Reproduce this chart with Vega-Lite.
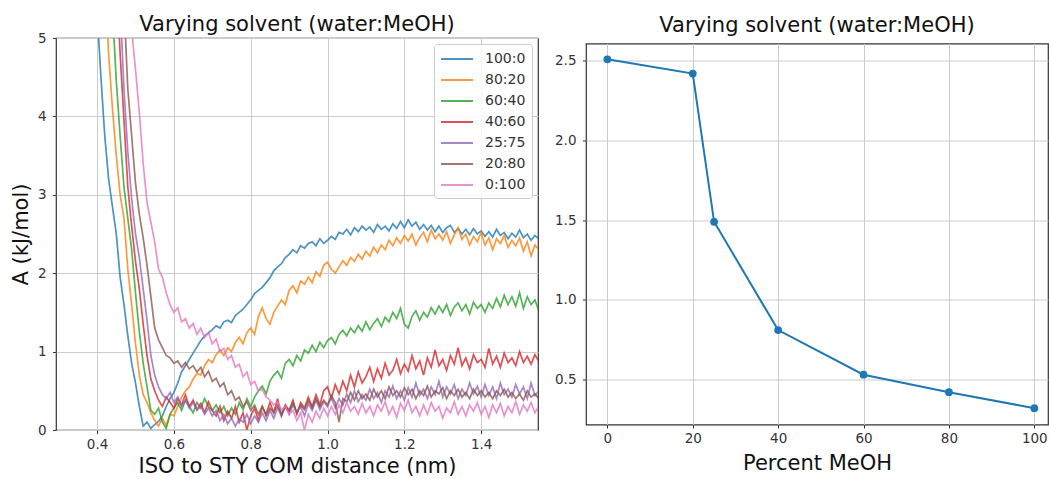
{
"$schema": "https://vega.github.io/schema/vega-lite/v6.json",
"padding": {"left": 9, "top": 13, "right": 0, "bottom": 0},
"config": {
  "font": "DejaVu Sans",
  "view": {"stroke": "#333333", "strokeWidth": 1.2},
  "axis": {"grid": true, "gridColor": "#cccccc", "gridWidth": 1, "domain": false, "tickColor": "#333333", "tickSize": 3.5, "labelColor": "#333333", "labelFontSize": 13.5, "titleFontSize": 21, "titleFontWeight": "normal", "titleColor": "#111111", "labelFont": "DejaVu Sans", "titleFont": "DejaVu Sans"},
  "title": {"fontSize": 21, "fontWeight": "normal", "color": "#111111", "font": "DejaVu Sans"}
},
"spacing": 48,
"bounds": "flush",
"center": true,
"resolve": {"legend": {"color": "independent"}, "scale": {"color": "independent"}},
"datasets": {
"curves": [
{"x":0.404,"100:0":5.0},
{"x":0.41,"100:0":4.5},
{"x":0.42,"100:0":3.75},
{"x":0.428,"80:20":5.0},
{"x":0.43,"100:0":3.2,"80:20":4.8},
{"x":0.44,"100:0":2.85,"80:20":4.1},
{"x":0.444,"60:40":5.0},
{"x":0.45,"100:0":2.5,"80:20":3.5,"60:40":4.45},
{"x":0.458,"40:60":5.0},
{"x":0.46,"100:0":1.95,"80:20":3.0,"60:40":3.75,"40:60":4.8},
{"x":0.464,"25:75":5.0},
{"x":0.47,"100:0":1.6,"80:20":2.7,"60:40":3.1,"40:60":3.95,"25:75":4.35},
{"x":0.474,"20:80":5.0},
{"x":0.48,"100:0":1.2,"80:20":2.05,"60:40":2.7,"40:60":3.1,"25:75":3.55,"20:80":4.35},
{"x":0.49,"100:0":0.85,"80:20":1.6,"60:40":2.3,"40:60":2.6,"25:75":2.95,"20:80":3.75},
{"x":0.492,"0:100":5.0},
{"x":0.50,"100:0":0.6,"80:20":1.1,"60:40":1.75,"40:60":2.15,"25:75":2.5,"20:80":3.15,"0:100":4.6},
{"x":0.51,"100:0":0.3,"80:20":0.7,"60:40":1.25,"40:60":1.8,"25:75":2.2,"20:80":2.75,"0:100":4.05},
{"x":0.52,"100:0":0.05,"80:20":0.45,"60:40":0.85,"40:60":1.35,"25:75":1.8,"20:80":2.45,"0:100":3.4},
{"x":0.53,"100:0":0.1,"80:20":0.35,"60:40":0.55,"40:60":0.95,"25:75":1.4,"20:80":2.1,"0:100":2.9},
{"x":0.54,"100:0":0.02,"80:20":0.22,"60:40":0.25,"40:60":0.65,"25:75":0.95,"20:80":1.7,"0:100":2.65},
{"x":0.55,"100:0":0.07,"80:20":0.12,"60:40":0.2,"40:60":0.5,"25:75":0.7,"20:80":1.3,"0:100":2.4},
{"x":0.56,"100:0":0.11,"80:20":0.05,"60:40":0.28,"40:60":0.38,"25:75":0.55,"20:80":1.15,"0:100":2.05},
{"x":0.57,"100:0":0.18,"80:20":0.15,"60:40":0.1,"40:60":0.3,"25:75":0.45,"20:80":1.05,"0:100":1.95},
{"x":0.58,"100:0":0.3,"80:20":0.06,"60:40":0.02,"40:60":0.42,"25:75":0.4,"20:80":0.95,"0:100":1.75},
{"x":0.59,"100:0":0.4,"80:20":0.2,"60:40":0.2,"40:60":0.35,"25:75":0.48,"20:80":0.92,"0:100":1.6},
{"x":0.60,"100:0":0.48,"80:20":0.18,"60:40":0.28,"40:60":0.28,"25:75":0.35,"20:80":0.85,"0:100":1.5},
{"x":0.61,"100:0":0.6,"80:20":0.3,"60:40":0.35,"40:60":0.4,"25:75":0.42,"20:80":0.88,"0:100":1.56},
{"x":0.62,"100:0":0.74,"80:20":0.42,"60:40":0.25,"40:60":0.32,"25:75":0.3,"20:80":0.8,"0:100":1.38},
{"x":0.63,"100:0":0.82,"80:20":0.5,"60:40":0.38,"40:60":0.45,"25:75":0.38,"20:80":0.86,"0:100":1.42},
{"x":0.64,"100:0":0.9,"80:20":0.55,"60:40":0.3,"40:60":0.3,"25:75":0.28,"20:80":0.78,"0:100":1.3},
{"x":0.65,"100:0":0.98,"80:20":0.65,"60:40":0.22,"40:60":0.38,"25:75":0.35,"20:80":0.82,"0:100":1.36},
{"x":0.66,"100:0":1.06,"80:20":0.72,"60:40":0.35,"40:60":0.26,"25:75":0.25,"20:80":0.74,"0:100":1.22},
{"x":0.67,"100:0":1.14,"80:20":0.7,"60:40":0.28,"40:60":0.34,"25:75":0.3,"20:80":0.8,"0:100":1.3},
{"x":0.68,"100:0":1.2,"80:20":0.82,"60:40":0.4,"40:60":0.22,"25:75":0.2,"20:80":0.68,"0:100":1.18},
{"x":0.69,"100:0":1.24,"80:20":0.9,"60:40":0.3,"40:60":0.36,"25:75":0.28,"20:80":0.75,"0:100":1.24},
{"x":0.70,"100:0":1.28,"80:20":0.86,"60:40":0.25,"40:60":0.25,"25:75":0.18,"20:80":0.62,"0:100":1.1},
{"x":0.71,"100:0":1.33,"80:20":0.96,"60:40":0.32,"40:60":0.18,"25:75":0.25,"20:80":0.66,"0:100":1.16},
{"x":0.72,"100:0":1.3,"80:20":1.02,"60:40":0.22,"40:60":0.3,"25:75":0.12,"20:80":0.55,"0:100":1.0},
{"x":0.73,"100:0":1.38,"80:20":0.95,"60:40":0.3,"40:60":0.12,"25:75":0.2,"20:80":0.6,"0:100":1.04},
{"x":0.74,"100:0":1.4,"80:20":1.05,"60:40":0.18,"40:60":0.24,"25:75":0.08,"20:80":0.45,"0:100":0.9},
{"x":0.75,"100:0":1.37,"80:20":1.0,"60:40":0.28,"40:60":0.15,"25:75":0.15,"20:80":0.5,"0:100":0.95},
{"x":0.76,"100:0":1.46,"80:20":1.12,"60:40":0.2,"40:60":0.3,"25:75":0.05,"20:80":0.38,"0:100":0.8},
{"x":0.77,"100:0":1.5,"80:20":1.18,"60:40":0.35,"40:60":0.1,"25:75":0.14,"20:80":0.42,"0:100":0.84},
{"x":0.78,"100:0":1.54,"80:20":1.1,"60:40":0.26,"40:60":0.22,"25:75":0.1,"20:80":0.3,"0:100":0.68},
{"x":0.79,"100:0":1.6,"80:20":1.24,"60:40":0.4,"40:60":0.0,"25:75":0.2,"20:80":0.36,"0:100":0.74},
{"x":0.80,"100:0":1.66,"80:20":1.3,"60:40":0.3,"40:60":0.18,"25:75":0.08,"20:80":0.25,"0:100":0.58},
{"x":0.81,"100:0":1.74,"80:20":1.22,"60:40":0.42,"40:60":0.28,"25:75":0.18,"20:80":0.32,"0:100":0.62},
{"x":0.82,"100:0":1.78,"80:20":1.45,"60:40":0.5,"40:60":0.12,"25:75":0.1,"20:80":0.2,"0:100":0.5},
{"x":0.83,"100:0":1.82,"80:20":1.56,"60:40":0.56,"40:60":0.3,"25:75":0.22,"20:80":0.3,"0:100":0.52},
{"x":0.84,"100:0":1.88,"80:20":1.42,"60:40":0.46,"40:60":0.2,"25:75":0.12,"20:80":0.18,"0:100":0.42},
{"x":0.85,"100:0":1.94,"80:20":1.35,"60:40":0.62,"40:60":0.35,"25:75":0.25,"20:80":0.28,"0:100":0.38},
{"x":0.86,"100:0":2.03,"80:20":1.5,"60:40":0.7,"40:60":0.22,"25:75":0.15,"20:80":0.22,"0:100":0.32},
{"x":0.87,"100:0":2.08,"80:20":1.58,"60:40":0.75,"40:60":0.4,"25:75":0.28,"20:80":0.32,"0:100":0.36},
{"x":0.88,"100:0":2.12,"80:20":1.66,"60:40":0.66,"40:60":0.18,"25:75":0.18,"20:80":0.2,"0:100":0.26},
{"x":0.89,"100:0":2.2,"80:20":1.6,"60:40":0.85,"40:60":0.32,"25:75":0.3,"20:80":0.3,"0:100":0.3},
{"x":0.90,"100:0":2.24,"80:20":1.78,"60:40":0.9,"40:60":0.25,"25:75":0.2,"20:80":0.24,"0:100":0.2},
{"x":0.91,"100:0":2.3,"80:20":1.84,"60:40":0.82,"40:60":0.38,"25:75":0.32,"20:80":0.35,"0:100":0.25},
{"x":0.92,"100:0":2.26,"80:20":1.75,"60:40":0.95,"40:60":0.2,"25:75":0.22,"20:80":0.22,"0:100":0.12},
{"x":0.93,"100:0":2.35,"80:20":1.9,"60:40":0.88,"40:60":0.35,"25:75":0.3,"20:80":0.32,"0:100":0.22},
{"x":0.94,"100:0":2.32,"80:20":1.86,"60:40":1.02,"40:60":0.28,"25:75":0.18,"20:80":0.26,"0:100":0.0},
{"x":0.95,"100:0":2.38,"80:20":1.95,"60:40":0.98,"40:60":0.42,"25:75":0.34,"20:80":0.38,"0:100":0.2},
{"x":0.96,"100:0":2.4,"80:20":1.88,"60:40":1.08,"40:60":0.3,"25:75":0.25,"20:80":0.28,"0:100":0.1},
{"x":0.97,"100:0":2.35,"80:20":2.02,"60:40":1.0,"40:60":0.45,"25:75":0.38,"20:80":0.4,"0:100":0.24},
{"x":0.98,"100:0":2.44,"80:20":1.96,"60:40":1.12,"40:60":0.32,"25:75":0.26,"20:80":0.3,"0:100":0.15},
{"x":0.99,"100:0":2.38,"80:20":2.1,"60:40":1.05,"40:60":0.5,"25:75":0.36,"20:80":0.38,"0:100":0.28},
{"x":1.00,"100:0":2.42,"80:20":2.14,"60:40":1.14,"40:60":0.55,"25:75":0.3,"20:80":0.32,"0:100":0.18},
{"x":1.01,"100:0":2.47,"80:20":2.05,"60:40":1.18,"40:60":0.4,"25:75":0.42,"20:80":0.44,"0:100":0.3},
{"x":1.02,"100:0":2.43,"80:20":2.0,"60:40":1.1,"40:60":0.58,"25:75":0.28,"20:80":0.35,"0:100":0.2},
{"x":1.03,"100:0":2.52,"80:20":2.08,"60:40":1.22,"40:60":0.46,"25:75":0.4,"20:80":0.1,"0:100":0.32},
{"x":1.04,"100:0":2.5,"80:20":2.16,"60:40":1.27,"40:60":0.62,"25:75":0.32,"20:80":0.4,"0:100":0.22},
{"x":1.05,"100:0":2.56,"80:20":2.1,"60:40":1.2,"40:60":0.5,"25:75":0.46,"20:80":0.36,"0:100":0.35},
{"x":1.06,"100:0":2.49,"80:20":2.2,"60:40":1.3,"40:60":0.7,"25:75":0.35,"20:80":0.48,"0:100":0.24},
{"x":1.07,"100:0":2.58,"80:20":2.15,"60:40":1.24,"40:60":0.55,"25:75":0.5,"20:80":0.38,"0:100":0.3},
{"x":1.08,"100:0":2.53,"80:20":2.24,"60:40":1.33,"40:60":0.74,"25:75":0.36,"20:80":0.5,"0:100":0.2},
{"x":1.09,"100:0":2.6,"80:20":2.18,"60:40":1.26,"40:60":0.6,"25:75":0.45,"20:80":0.4,"0:100":0.34},
{"x":1.10,"100:0":2.55,"80:20":2.28,"60:40":1.38,"40:60":0.68,"25:75":0.38,"20:80":0.46,"0:100":0.22},
{"x":1.11,"100:0":2.59,"80:20":2.22,"60:40":1.28,"40:60":0.8,"25:75":0.52,"20:80":0.38,"0:100":0.3},
{"x":1.12,"100:0":2.52,"80:20":2.33,"60:40":1.36,"40:60":0.62,"25:75":0.4,"20:80":0.52,"0:100":0.18},
{"x":1.13,"100:0":2.62,"80:20":2.26,"60:40":1.42,"40:60":0.78,"25:75":0.48,"20:80":0.42,"0:100":0.32},
{"x":1.14,"100:0":2.56,"80:20":2.36,"60:40":1.32,"40:60":0.66,"25:75":0.35,"20:80":0.5,"0:100":0.24},
{"x":1.15,"100:0":2.6,"80:20":2.3,"60:40":1.44,"40:60":0.85,"25:75":0.5,"20:80":0.4,"0:100":0.36},
{"x":1.16,"100:0":2.54,"80:20":2.42,"60:40":1.38,"40:60":0.7,"25:75":0.42,"20:80":0.55,"0:100":0.2},
{"x":1.17,"100:0":2.63,"80:20":2.35,"60:40":1.5,"40:60":0.76,"25:75":0.56,"20:80":0.44,"0:100":0.3},
{"x":1.18,"100:0":2.57,"80:20":2.45,"60:40":1.42,"40:60":0.9,"25:75":0.4,"20:80":0.5,"0:100":0.16},
{"x":1.19,"100:0":2.66,"80:20":2.38,"60:40":1.55,"40:60":0.72,"25:75":0.5,"20:80":0.42,"0:100":0.34},
{"x":1.20,"100:0":2.58,"80:20":2.48,"60:40":1.35,"40:60":0.84,"25:75":0.38,"20:80":0.54,"0:100":0.25},
{"x":1.21,"100:0":2.68,"80:20":2.41,"60:40":1.3,"40:60":0.75,"25:75":0.54,"20:80":0.45,"0:100":0.38},
{"x":1.22,"100:0":2.6,"80:20":2.5,"60:40":1.45,"40:60":0.95,"25:75":0.42,"20:80":0.52,"0:100":0.22},
{"x":1.23,"100:0":2.65,"80:20":2.36,"60:40":1.52,"40:60":0.78,"25:75":0.6,"20:80":0.4,"0:100":0.3},
{"x":1.24,"100:0":2.56,"80:20":2.46,"60:40":1.4,"40:60":0.88,"25:75":0.44,"20:80":0.5,"0:100":0.18},
{"x":1.25,"100:0":2.62,"80:20":2.52,"60:40":1.5,"40:60":0.7,"25:75":0.52,"20:80":0.44,"0:100":0.32},
{"x":1.26,"100:0":2.55,"80:20":2.4,"60:40":1.44,"40:60":0.92,"25:75":0.4,"20:80":0.56,"0:100":0.2},
{"x":1.27,"100:0":2.61,"80:20":2.55,"60:40":1.56,"40:60":0.8,"25:75":0.55,"20:80":0.42,"0:100":0.35},
{"x":1.28,"100:0":2.53,"80:20":2.44,"60:40":1.48,"40:60":1.02,"25:75":0.45,"20:80":0.5,"0:100":0.24},
{"x":1.29,"100:0":2.6,"80:20":2.5,"60:40":1.58,"40:60":0.82,"25:75":0.62,"20:80":0.46,"0:100":0.3},
{"x":1.30,"100:0":2.52,"80:20":2.42,"60:40":1.5,"40:60":0.9,"25:75":0.42,"20:80":0.54,"0:100":0.15},
{"x":1.31,"100:0":2.58,"80:20":2.53,"60:40":1.6,"40:60":0.76,"25:75":0.55,"20:80":0.4,"0:100":0.28},
{"x":1.32,"100:0":2.61,"80:20":2.38,"60:40":1.46,"40:60":0.95,"25:75":0.46,"20:80":0.5,"0:100":0.22},
{"x":1.33,"100:0":2.52,"80:20":2.49,"60:40":1.57,"40:60":0.84,"25:75":0.58,"20:80":0.44,"0:100":0.36},
{"x":1.34,"100:0":2.57,"80:20":2.58,"60:40":1.62,"40:60":1.05,"25:75":0.4,"20:80":0.52,"0:100":0.2},
{"x":1.35,"100:0":2.5,"80:20":2.43,"60:40":1.52,"40:60":0.82,"25:75":0.52,"20:80":0.42,"0:100":0.3},
{"x":1.36,"100:0":2.56,"80:20":2.5,"60:40":1.6,"40:60":0.92,"25:75":0.44,"20:80":0.48,"0:100":0.18},
{"x":1.37,"100:0":2.49,"80:20":2.36,"60:40":1.48,"40:60":0.78,"25:75":0.6,"20:80":0.4,"0:100":0.32},
{"x":1.38,"100:0":2.57,"80:20":2.47,"60:40":1.63,"40:60":0.96,"25:75":0.46,"20:80":0.52,"0:100":0.24},
{"x":1.39,"100:0":2.5,"80:20":2.4,"60:40":1.55,"40:60":0.86,"25:75":0.56,"20:80":0.44,"0:100":0.35},
{"x":1.40,"100:0":2.54,"80:20":2.52,"60:40":1.6,"40:60":0.9,"25:75":0.42,"20:80":0.5,"0:100":0.2},
{"x":1.41,"100:0":2.47,"80:20":2.36,"60:40":1.5,"40:60":0.8,"25:75":0.58,"20:80":0.42,"0:100":0.3},
{"x":1.42,"100:0":2.53,"80:20":2.45,"60:40":1.62,"40:60":1.04,"25:75":0.44,"20:80":0.48,"0:100":0.16},
{"x":1.43,"100:0":2.46,"80:20":2.3,"60:40":1.55,"40:60":0.84,"25:75":0.55,"20:80":0.4,"0:100":0.32},
{"x":1.44,"100:0":2.56,"80:20":2.44,"60:40":1.68,"40:60":0.94,"25:75":0.4,"20:80":0.5,"0:100":0.22},
{"x":1.45,"100:0":2.48,"80:20":2.38,"60:40":1.57,"40:60":0.8,"25:75":0.6,"20:80":0.44,"0:100":0.34},
{"x":1.46,"100:0":2.52,"80:20":2.48,"60:40":1.72,"40:60":0.98,"25:75":0.45,"20:80":0.52,"0:100":0.18},
{"x":1.47,"100:0":2.44,"80:20":2.33,"60:40":1.6,"40:60":0.86,"25:75":0.52,"20:80":0.42,"0:100":0.3},
{"x":1.48,"100:0":2.51,"80:20":2.42,"60:40":1.7,"40:60":0.92,"25:75":0.42,"20:80":0.48,"0:100":0.22},
{"x":1.49,"100:0":2.46,"80:20":2.35,"60:40":1.58,"40:60":0.82,"25:75":0.58,"20:80":0.4,"0:100":0.36},
{"x":1.50,"100:0":2.55,"80:20":2.45,"60:40":1.75,"40:60":1.0,"25:75":0.46,"20:80":0.46,"0:100":0.2},
{"x":1.51,"100:0":2.45,"80:20":2.28,"60:40":1.55,"40:60":0.86,"25:75":0.55,"20:80":0.38,"0:100":0.32},
{"x":1.52,"100:0":2.5,"80:20":2.4,"60:40":1.7,"40:60":0.94,"25:75":0.4,"20:80":0.5,"0:100":0.24},
{"x":1.53,"100:0":2.42,"80:20":2.22,"60:40":1.6,"40:60":0.84,"25:75":0.6,"20:80":0.42,"0:100":0.35},
{"x":1.54,"100:0":2.48,"80:20":2.36,"60:40":1.66,"40:60":0.96,"25:75":0.44,"20:80":0.46,"0:100":0.22},
{"x":1.55,"100:0":2.44,"80:20":2.3,"60:40":1.52,"40:60":0.88,"25:75":0.5,"20:80":0.4,"0:100":0.3}
],
"barrier": [
{"meoh":0,"A":2.51},
{"meoh":20,"A":2.42},
{"meoh":25,"A":1.49},
{"meoh":40,"A":0.81},
{"meoh":60,"A":0.53},
{"meoh":80,"A":0.42},
{"meoh":100,"A":0.32}
]
},
"hconcat": [
{
  "width": 482, "height": 392,
  "title": {"text": "Varying solvent (water:MeOH)", "offset": -4},
  "data": {"name": "curves"},
  "transform": [
    {"fold": ["100:0","80:20","60:40","40:60","25:75","20:80","0:100"], "as": ["solvent", "A"]},
    {"filter": {"field": "A", "valid": true}}
  ],
  "mark": {"type": "line", "clip": true, "strokeWidth": 1.7, "opacity": 0.8},
  "encoding": {
    "x": {"field": "x", "type": "quantitative", "scale": {"domain": [0.293, 1.548], "nice": false, "zero": false},
          "axis": {"values": [0.4,0.6,0.8,1.0,1.2,1.4], "format": ".1f", "title": "ISO to STY COM distance (nm)", "labelPadding": 3.5, "titlePadding": 5}},
    "y": {"field": "A", "type": "quantitative", "scale": {"domain": [0, 5], "nice": false, "zero": false},
          "axis": {"values": [0,1,2,3,4,5], "format": "d", "title": "A (kJ/mol)", "labelPadding": 6.5, "titlePadding": 6}},
    "color": {"field": "solvent", "type": "nominal",
      "scale": {"domain": ["100:0","80:20","60:40","40:60","25:75","20:80","0:100"], "range": ["#1f77b4","#ff7f0e","#2ca02c","#d62728","#9467bd","#8c564b","#e377c2"]},
      "legend": {"title": null, "orient": "top-right", "offset": 6, "strokeColor": "#cccccc", "fillColor": "rgba(255,255,255,0.8)", "padding": 6, "cornerRadius": 3, "symbolType": "M-1,0L3,0", "symbolSize": 256, "symbolStrokeWidth": 2, "symbolOpacity": 0.8, "symbolFillColor": "transparent", "labelFontSize": 14, "labelColor": "#333333", "rowPadding": 5, "labelOffset": 27}}
  }
},
{
  "width": 462, "height": 381,
  "title": {"text": "Varying solvent (water:MeOH)", "offset": 8},
  "data": {"name": "barrier"},
  "mark": {"type": "line", "color": "#1f77b4", "strokeWidth": 2, "point": {"size": 60, "filled": true, "opacity": 1, "color": "#1f77b4"}},
  "encoding": {
    "x": {"field": "meoh", "type": "quantitative", "scale": {"domain": [-5, 103.2], "nice": false, "zero": false},
          "axis": {"values": [0,20,40,60,80,100], "title": "Percent MeOH", "labelPadding": 3.5, "titlePadding": 7}},
    "y": {"field": "A", "type": "quantitative", "scale": {"domain": [0.2175, 2.609], "nice": false, "zero": false},
          "axis": {"values": [0.5,1.0,1.5,2.0,2.5], "format": ".1f", "title": null, "labelPadding": 6.5}}
  }
}
]
}
